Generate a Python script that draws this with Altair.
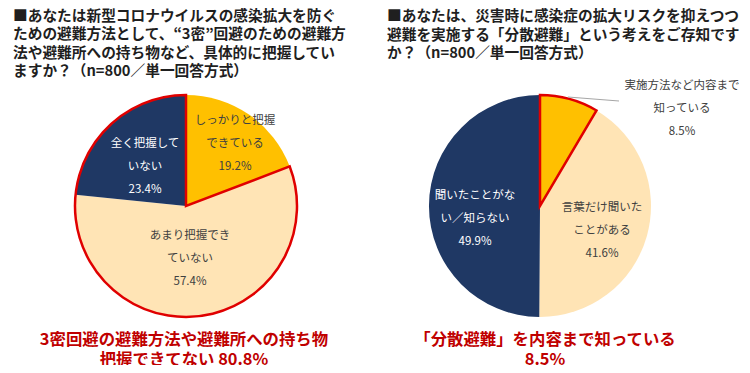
import altair as alt
import pandas as pd

FONT = "Noto Sans CJK JP"

# ---- Data -------------------------------------------------------------
q1_categories = ["しっかりと把握できている", "あまり把握できていない", "全く把握していない"]
q1_label_lines = [["しっかりと把握", "できている"], ["あまり把握でき", "ていない"], ["全く把握して", "いない"]]
q1_values = [19.2, 57.4, 23.4]
q1_highlight = [False, True, True]

q2_categories = ["実施方法など内容まで知っている", "言葉だけ聞いたことがある", "聞いたことがない／知らない"]
q2_label_lines = [["実施方法など内容まで", "知っている"], ["言葉だけ聞いた", "ことがある"], ["聞いたことがな", "い／知らない"]]
q2_values = [8.5, 41.6, 49.9]
q2_highlight = [True, False, False]

slice_colors = ["#FFC000", "#FFE4B5", "#1F3864"]
label_colors = ["#404040", "#404040", "#FFFFFF"]

title_left = [
    "■あなたは新型コロナウイルスの感染拡大を防ぐ",
    "ための避難方法として、“3密”回避のための避難方",
    "法や避難所への持ち物など、具体的に把握してい",
    "ますか？（n=800／単一回答方式）",
]
title_right = [
    "■あなたは、災害時に感染症の拡大リスクを抑えつつ",
    "避難を実施する「分散避難」という考えをご存知です",
    "か？（n=800／単一回答方式）",
]
summary_left = ["3密回避の避難方法や避難所への持ち物", "把握できてない 80.8%"]
summary_right = ["「分散避難」を内容まで知っている", "8.5%"]

# ---- Helpers ----------------------------------------------------------
R = 111


def pie(cats, vals, highlight, cx, cy):
    df = pd.DataFrame({"cat": cats, "v": vals, "order": list(range(len(cats))),
                       "fill": slice_colors})
    base = alt.Chart(df).mark_arc(radius=R, strokeWidth=0).encode(
        theta=alt.Theta("v:Q", stack=True),
        order=alt.Order("order:Q"),
        color=alt.Color("fill:N", scale=None, legend=None),
        x=alt.value(cx), y=alt.value(cy),
    )
    groups = []
    for v, h in zip(vals, highlight):
        if groups and groups[-1][1] == h:
            groups[-1][0] += v
        else:
            groups.append([v, h])
    hdf = pd.DataFrame({
        "v": [g[0] for g in groups],
        "order": list(range(len(groups))),
        "stroke": ["#E00000" if g[1] else "transparent" for g in groups],
    })
    outline = alt.Chart(hdf).mark_arc(radius=R, fill="transparent", strokeWidth=2.5,
                                      strokeJoin="miter").encode(
        theta=alt.Theta("v:Q", stack=True),
        order=alt.Order("order:Q"),
        stroke=alt.Stroke("stroke:N", scale=None, legend=None),
        x=alt.value(cx), y=alt.value(cy),
    )
    return [base, outline]


def text_block(lines, x, y, size, color, weight="normal", align="center", lh=23):
    """y is the centre of the first line."""
    df = pd.DataFrame({"t": ["\n".join(lines)]})
    return alt.Chart(df).mark_text(
        lineBreak="\n", lineHeight=lh, fontSize=size, font=FONT, fontWeight=weight,
        color=color, align=align, baseline="middle",
    ).encode(text="t:N", x=alt.value(x), y=alt.value(y))


def slice_label(lines, value, x, y, color):
    return text_block(lines + [f"{value:.1f}%"], x, y, 11.5, color)


layers = []
# Titles
layers.append(text_block(title_left, 5, 7.5, 14.7, "#1F1F1F", weight="bold", align="left", lh=18.5))
layers.append(text_block(title_right, 379, 8, 14.7, "#1F1F1F", weight="bold", align="left", lh=18.5))

# Pies
layers += pie(q1_categories, q1_values, q1_highlight, 178, 197)
layers += pie(q2_categories, q2_values, q2_highlight, 532, 197)

# Slice labels (left pie)
q1_pos = [(227, 112), (182, 227), (137, 135)]
for lines, v, (x, y), c in zip(q1_label_lines, q1_values, q1_pos, label_colors):
    layers.append(slice_label(lines, v, x, y, c))

# Slice labels (right pie)
q2_pos = [(674, 77), (594, 199), (467, 187)]
for lines, v, (x, y), c in zip(q2_label_lines, q2_values, q2_pos, label_colors):
    layers.append(slice_label(lines, v, x, y, c))

# Leader line for the small slice
layers.append(
    alt.Chart(pd.DataFrame({"a": [0]})).mark_rule(color="#A6A6A6", strokeWidth=1).encode(
        x=alt.value(560), y=alt.value(88), x2=alt.value(611), y2=alt.value(92)
    )
)

# Summaries
layers.append(text_block(summary_left, 176, 331, 16.4, "#C00000", weight="bold", lh=19.5))
layers.append(text_block(summary_right, 537, 331, 16.4, "#C00000", weight="bold", lh=19.5))

chart = alt.layer(*layers).properties(
    width=734, height=357,
    autosize=alt.AutoSizeParams(type="fit", contains="padding"),
    padding=0,
    background="white",
).configure_view(stroke=None)

chart.save("out.html", embed_options={"renderer": "svg", "actions": False})
